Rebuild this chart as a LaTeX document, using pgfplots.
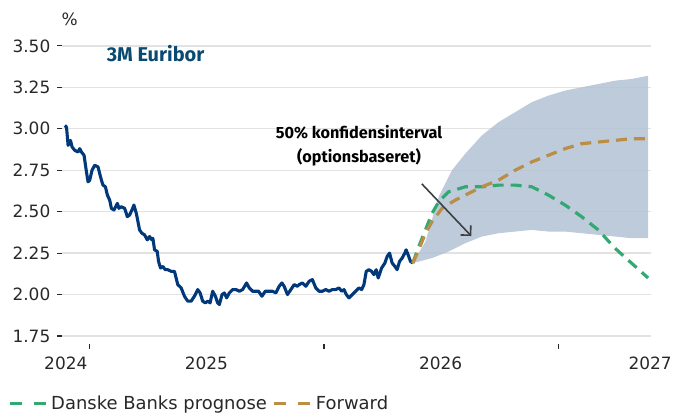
\documentclass[border=0pt]{standalone}
\usepackage{fontspec}
\setmainfont{DejaVu Sans}
\newfontfamily\fira{Fira Sans}
\usepackage{pgfplots}
\pgfplotsset{compat=1.18}
\usetikzlibrary{arrows.meta}
\definecolor{navy}{RGB}{0,56,122}
\definecolor{dgreen}{RGB}{52,168,115}
\definecolor{gold}{RGB}{186,142,68}
\definecolor{band}{RGB}{178,194,212}
\definecolor{gridc}{RGB}{226,226,226}
\definecolor{titlec}{RGB}{10,74,112}
\definecolor{txt}{RGB}{40,40,40}
\definecolor{arrowc}{RGB}{60,64,64}
\begin{document}
\begin{tikzpicture}
\begin{axis}[
  scale only axis, width=591pt, height=291pt,
  xmin=62, xmax=653, ymin=1.75, ymax=3.5,
  clip=false,
  axis x line*=bottom, axis y line*=left,
  axis line style={draw=none},
  ytick={1.75,2,2.25,2.5,2.75,3,3.25,3.5},
  yticklabels={1.75,2.00,2.25,2.50,2.75,3.00,3.25,3.50},
  ymajorgrids, major grid style={gridc, line width=1.3pt},
  tick align=outside, major tick length=5pt,
  ytick style={txt, line width=1.2pt},
  xtick={90,325,560}, xticklabels={,,},
  xtick style={txt, line width=1.2pt, yshift=-8pt},
  extra x ticks={66,207,442,652},
  extra x tick labels={2024,2025,2026,2027},
  extra x tick style={major tick length=0pt, xticklabel style={yshift=-17pt}},
  tick label style={font=\fontsize{17}{20}\selectfont, text=txt},
  yticklabel style={xshift=-3pt},
  legend columns=2,
  legend cell align=left,
  legend style={draw=none, fill=none, at={(rel axis cs:-0.0914,0)}, anchor=west, yshift=-68pt,
    font=\fontsize{18}{21}\selectfont, text=txt, inner xsep=0pt,
    /tikz/every even column/.append style={column sep=4pt}},
  legend image code/.code={\draw[#1, dash pattern=on 12pt off 12pt] (0pt,0pt) -- (38pt,0pt);},
]
\path (axis cs:0,3.7766) rectangle (axis cs:675,1.2751);
\addplot[draw=none, fill=band, fill opacity=0.85, forget plot] coordinates {
(414,2.19) (426.7,2.32) (440,2.59) (453.3,2.75) (466.7,2.85) (483.3,2.96) (500,3.04) (516.7,3.10)
(533.3,3.16) (550,3.20) (566.7,3.23) (583.3,3.25) (600,3.27) (616.7,3.29) (633.3,3.30) (650,3.32)
(650,2.34) (633.3,2.34) (616.7,2.35) (600,2.36) (583.3,2.37) (566.7,2.38) (550,2.38) (533.3,2.39)
(516.7,2.38) (500,2.37) (483.3,2.35) (466.7,2.31) (450,2.26) (433.3,2.22) (414,2.19)
} -- cycle;
\addplot[navy, line width=3.1pt, line join=round, forget plot] coordinates {
(65,3.02) (66.7,3.01) (68.3,2.90) (70.7,2.93) (72.3,2.89) (75,2.87) (78.3,2.86) (80,2.88)
(81.7,2.86) (84.3,2.84) (86.7,2.74) (88.3,2.68) (90,2.69) (92.3,2.75) (95,2.78) (98.3,2.77)
(101.7,2.69) (103.3,2.66) (105.7,2.65) (107.7,2.60) (110,2.57) (111.7,2.52) (114.3,2.51) (117.7,2.55)
(119.3,2.52) (121.7,2.53) (125,2.52) (127.7,2.47) (130,2.48) (132.3,2.51) (134.3,2.54) (136.7,2.49)
(140,2.39) (142.3,2.37) (145,2.36) (147.7,2.33) (150,2.35) (152.3,2.33) (153.3,2.34) (155,2.27)
(157.7,2.26) (159,2.20) (161,2.16) (163.3,2.17) (165.7,2.15) (168.3,2.15) (171.7,2.14) (175,2.14)
(178.3,2.06) (181.7,2.04) (185,1.99) (188.3,1.96) (191.7,1.96) (195,1.99) (198.3,2.03) (200.7,2.01)
(203.3,1.96) (206,1.95) (208.3,1.96) (210.7,1.95) (213.3,2.02) (216,1.99) (218.3,1.95) (220,1.94)
(222.7,2.00) (225,2.01) (227.3,1.98) (230,2.01) (233.3,2.03) (236.7,2.03) (240,2.02) (243.3,2.03)
(247.3,2.07) (250,2.04) (253.3,2.02) (256.7,2.02) (259.3,2.02) (262.7,1.99) (266,2.02) (269.3,2.02)
(273.3,2.02) (276.7,2.01) (280,2.05) (282.7,2.07) (285,2.05) (288.3,2.00) (291.7,2.03) (295,2.06)
(298.3,2.05) (300,2.06) (303.3,2.07) (306.7,2.05) (310,2.08) (313.3,2.09) (316.7,2.04) (320,2.02)
(323.3,2.02) (326.7,2.03) (330,2.02) (333.3,2.03) (336.7,2.03) (340,2.04) (342.7,2.02) (345,2.03)
(347.3,2.00) (350,1.98) (353.3,2.00) (356.7,2.02) (360,2.04) (362.7,2.03) (365,2.06) (367.3,2.14)
(370,2.15) (372.7,2.14) (375,2.12) (377.3,2.15) (379.3,2.10) (382.7,2.16) (386,2.19) (388.3,2.23)
(390.7,2.25) (393.3,2.19) (396,2.17) (398.3,2.15) (400.7,2.20) (403.3,2.22) (406,2.25) (407.3,2.27)
(409.3,2.24) (411.7,2.20) (414,2.19)
};
\addplot[dgreen, line width=3.2pt, dash pattern=on 11pt off 7pt] coordinates {
(414,2.19) (420,2.29) (426.7,2.39) (433.3,2.49) (440,2.56) (450,2.62) (466.7,2.65) (483.3,2.65)
(500,2.66) (516.7,2.66) (533.3,2.65) (550,2.60) (566.7,2.54) (583.3,2.47) (600,2.39) (616.7,2.28)
(633.3,2.19) (650,2.10)
};
\addlegendentry{Danske Banks prognose}
\addplot[gold, line width=3.2pt, dash pattern=on 11pt off 7pt] coordinates {
(414,2.19) (420,2.27) (426.7,2.37) (433.3,2.44) (443.3,2.52) (456.7,2.57) (466.7,2.60) (483.3,2.65)
(500,2.69) (516.7,2.75) (533.3,2.80) (550,2.84) (566.7,2.88) (583.3,2.91) (600,2.92) (616.7,2.93)
(633.3,2.94) (650,2.94)
};
\addlegendentry{Forward}
\draw[arrowc, line width=1.6pt, -{Straight Barb[length=7pt,width=14pt]}] (axis cs:423,2.668) -- (axis cs:472.7,2.353);
\node[font=\fira\bfseries\fontsize{20}{23}\selectfont, text=titlec] at (axis cs:156,3.452) {3M Euribor};
\node[font=\fira\bfseries\fontsize{16.3}{24}\selectfont, align=center, text=black] at (axis cs:360,2.90) {50\% konfidensinterval\\(optionsbaseret)};
\node[font=\fontsize{17}{20}\selectfont, text=txt] at (axis cs:70,3.662) {\%};
\end{axis}
\end{tikzpicture}
\end{document}
